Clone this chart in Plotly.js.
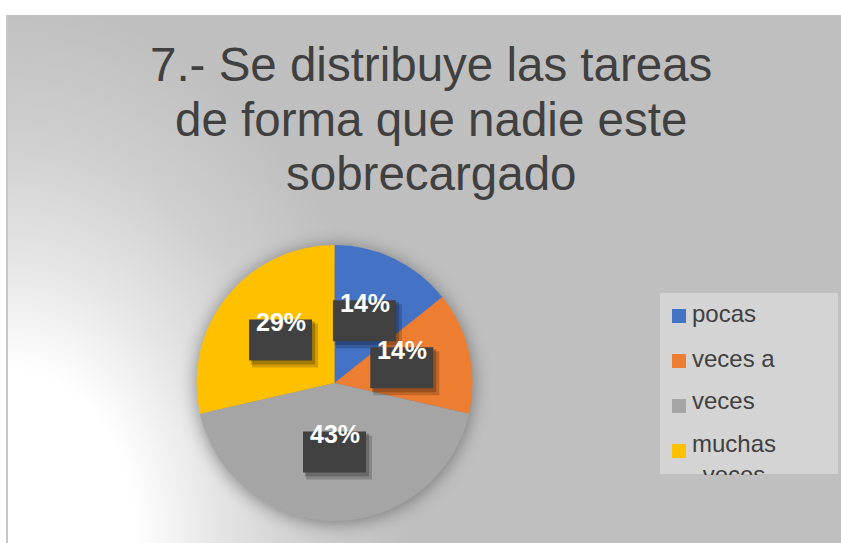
<!DOCTYPE html>
<html><head><meta charset="utf-8">
<script src="https://cdn.plot.ly/plotly-3.0.1.min.js"></script>
<style>
html,body{margin:0;padding:0;width:841px;height:543px;overflow:hidden;background:#fff;}
#bg{position:absolute;left:6px;top:15px;width:835px;height:528px;border-left:2px solid #c4c4c4;box-sizing:border-box;
background:radial-gradient(ellipse 400px 540px at 0% 100%, #ffffff 0%, #ffffff 32%, #e6e6e6 52%, #cfcfcf 75%, #bfbfbf 100%);}
#chart{position:absolute;left:0;top:0;width:841px;height:543px;}
#chart .pielayer{filter:drop-shadow(0px 2px 9px rgba(0,0,0,0.4));}
</style></head><body>
<div id="bg"></div><div id="chart"></div>
<script>
// ---- data ----
const titleLines = ["7.- Se distribuye las tareas", "de forma que nadie este", "sobrecargado"];
const categories = ["pocas", "veces a", "veces", "muchas veces"];
const counts = [1, 1, 3, 2];
const colors = ["#4472C4", "#ED7D31", "#A5A5A5", "#FFC000"];
const legendText = ["pocas", "veces a", "veces", "muchas<br>veces"];

// ---- layout helpers ----
const W = 841, H = 543;
const px = x => x / W, py = y => 1 - y / H;
const CX = 334.5, CY = 383, R = 138;
const FONT = "Liberation Sans, Arial, sans-serif";
const TXT = "#404040";

const total = counts.reduce((a, b) => a + b, 0);
const annotations = [];
const shapes = [];

// title lines
const titleMid = [64.5, 119.5, 173.5];
titleLines.forEach((t, i) => {
  annotations.push({text: t, xref: "paper", yref: "paper", x: px(431), y: py(titleMid[i]),
    xanchor: "center", yanchor: "middle", showarrow: false, borderpad: 0,
    font: {family: FONT, size: 47.5, color: TXT}});
});

// data labels in dark boxes, placed on slice bisectors at half radius
let cum = 0;
counts.forEach((v, i) => {
  const th = 2 * Math.PI * (cum + v / 2) / total;
  cum += v;
  const bx = CX + 0.5 * R * Math.sin(th);
  const by = CY - 0.5 * R * Math.cos(th);
  const bw = 63, bh = 41;
  shapes.push({type: "rect", xref: "paper", yref: "paper", layer: "above",
    x0: px(bx - bw / 2 + 3), x1: px(bx + bw / 2 + 6), y0: py(by - bh / 2 + 4), y1: py(by + bh / 2 + 7),
    fillcolor: "rgba(0,0,0,0.18)", line: {width: 0}});
  shapes.push({type: "rect", xref: "paper", yref: "paper", layer: "above",
    x0: px(bx - bw / 2 + 2), x1: px(bx + bw / 2 + 3), y0: py(by - bh / 2 + 2), y1: py(by + bh / 2 + 4),
    fillcolor: "rgba(0,0,0,0.22)", line: {width: 0}});
  shapes.push({type: "rect", xref: "paper", yref: "paper", layer: "above",
    x0: px(bx - bw / 2), x1: px(bx + bw / 2), y0: py(by - bh / 2), y1: py(by + bh / 2),
    fillcolor: "#414141", line: {width: 0}});
  annotations.push({text: Math.round(v / total * 100) + "%", xref: "paper", yref: "paper",
    x: px(bx + 0.5), y: py(by - 18), xanchor: "center", yanchor: "middle", showarrow: false, borderpad: 0,
    font: {family: FONT, size: 25, color: "#ffffff", weight: "bold"}});
});

// legend
shapes.push({type: "rect", xref: "paper", yref: "paper", layer: "above",
  x0: px(660), x1: px(838), y0: py(293), y1: py(474), fillcolor: "#d4d4d4", line: {width: 0}});
const legTextMid = [313.7, 358.2, 400.7];
categories.forEach((c, i) => {
  const sy = 316 + 45 * i;
  shapes.push({type: "rect", xref: "paper", yref: "paper", layer: "above",
    x0: px(672), x1: px(686), y0: py(sy - 7), y1: py(sy + 7), fillcolor: colors[i], line: {width: 0}});
  if (i < 3) {
    annotations.push({text: legendText[i], xref: "paper", yref: "paper", x: px(690.5), y: py(legTextMid[i]),
      xanchor: "left", yanchor: "middle", showarrow: false, borderpad: 0,
      font: {family: FONT, size: 24, color: TXT}});
  } else {
    annotations.push({text: legendText[i], xref: "paper", yref: "paper", x: px(690.5), y: py(428.8),
      xanchor: "left", yanchor: "top", valign: "top", height: 45, showarrow: false, borderpad: 0,
      font: {family: FONT, size: 24, color: TXT}});
  }
});

const data = [{
  type: "pie", labels: categories, values: counts, sort: false, direction: "clockwise", rotation: 0,
  marker: {colors: colors, line: {width: 0}}, textinfo: "none", hoverinfo: "skip",
  domain: {x: [px(CX - R), px(CX + R)], y: [py(CY + R), py(CY - R)]}
}];

const layout = {
  width: W, height: H, margin: {l: 0, r: 0, t: 0, b: 0, pad: 0},
  paper_bgcolor: "rgba(0,0,0,0)", plot_bgcolor: "rgba(0,0,0,0)",
  showlegend: false, annotations: annotations, shapes: shapes
};

Plotly.newPlot("chart", data, layout, {staticPlot: true, displayModeBar: false});
</script>
</body></html>
